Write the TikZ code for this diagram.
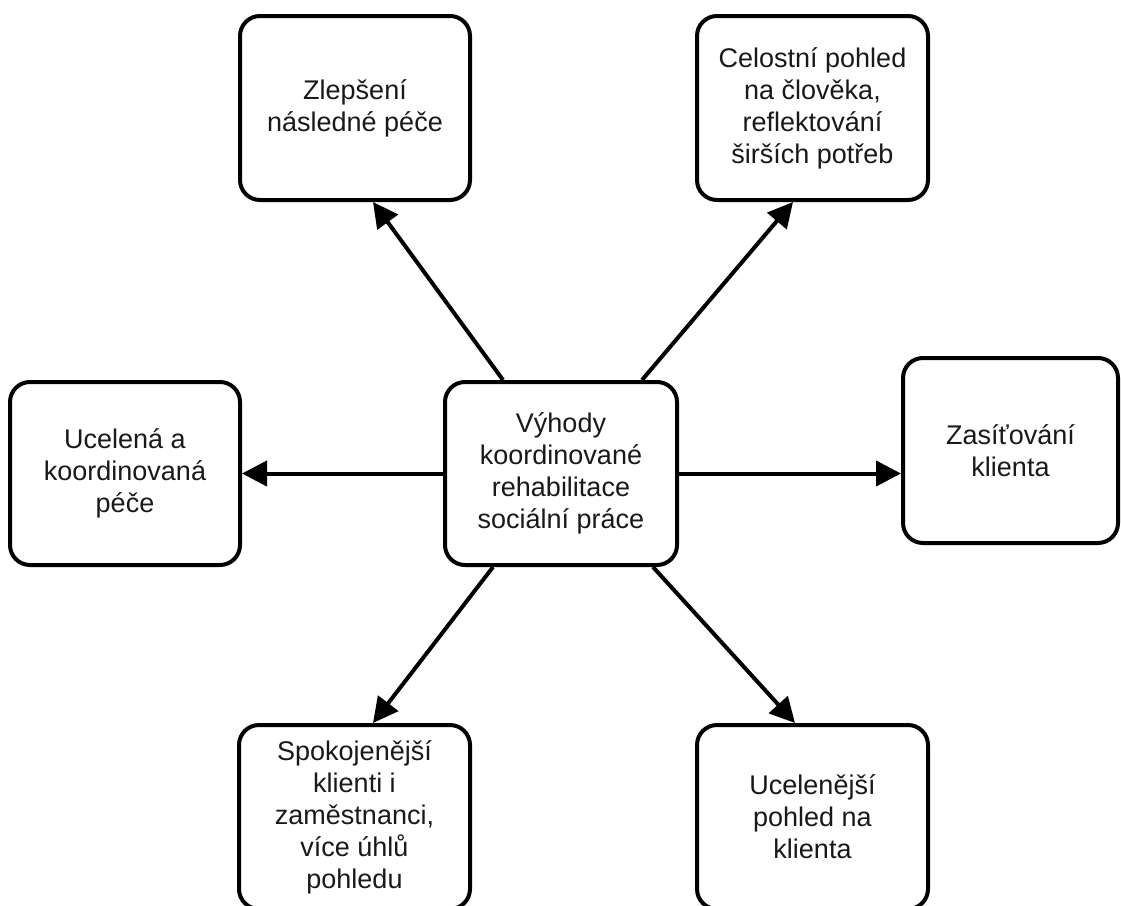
\documentclass[tikz,border=0pt]{standalone}
\usepackage{fontspec}
\setmainfont{Liberation Sans}
\usetikzlibrary{arrows.meta}

\tikzset{
  card/.style={draw=black, line width=4pt, rounded corners=20pt, fill=white,
    align=center, inner sep=0pt, text=black!90,
    font=\fontsize{27}{32}\selectfont},
  link/.style={line width=4pt, -{Triangle[length=25pt,width=25pt]}},
}

\begin{document}
\begin{tikzpicture}[x=1pt, y=-1pt]
  \clip (0,0) rectangle (1121,905);
  \fill[white] (0,0) rectangle (1121,905);

  % central topic
  \node[card, minimum width=232pt, minimum height=183pt] (c) at (561,473.5)
    {Výhody\\koordinované\\rehabilitace\\sociální práce};

  % surrounding benefits
  \node[card, minimum width=230pt, minimum height=184pt] (tl) at (355,108)
    {Zlepšení\\následné péče};
  \node[card, minimum width=231pt, minimum height=184pt] (tr) at (812.5,108)
    {Celostní pohled\\na člověka,\\reflektování\\širších potřeb};
  \node[card, minimum width=230pt, minimum height=183pt] (l) at (125,473.5)
    {Ucelená a\\koordinovaná\\péče};
  \node[card, minimum width=215pt, minimum height=185pt] (r) at (1010.5,450.5)
    {Zasíťování\\klienta};
  \node[card, minimum width=231pt, minimum height=184pt] (bl) at (354.5,817)
    {Spokojenější\\klienti i\\zaměstnanci,\\více úhlů\\pohledu};
  \node[card, minimum width=231pt, minimum height=184pt] (br) at (812.5,817)
    {Ucelenější\\pohled na\\klienta};

  % connectors from the centre outwards
  \draw[link] ([xshift=-58pt]c.north) -- ([xshift=18pt]tl.south);
  \draw[link] ([xshift=81pt]c.north) -- ([xshift=-19.5pt]tr.south);
  \draw[link] (c.west) -- (l.east);
  \draw[link] (c.east) -- (c.east -| r.west);
  \draw[link] ([xshift=-68pt]c.south) -- ([xshift=18.5pt]bl.north);
  \draw[link] ([xshift=92pt]c.south) -- ([xshift=-17.5pt]br.north);
\end{tikzpicture}
\end{document}
